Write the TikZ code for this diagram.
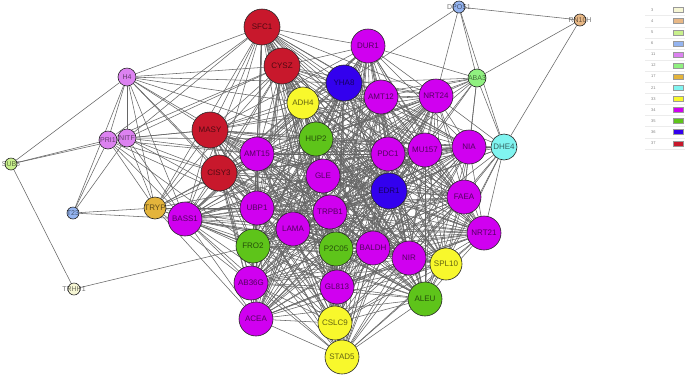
\documentclass[tikz,border=0pt]{standalone}
\usepackage{fontspec}
\setmainfont{Liberation Sans}
\usetikzlibrary{backgrounds}
\definecolor{cIII}{HTML}{F6F6D4}
\definecolor{cIV}{HTML}{E8B886}
\definecolor{cV}{HTML}{C8F08C}
\definecolor{cVI}{HTML}{94B4F0}
\definecolor{cXI}{HTML}{DC82F0}
\definecolor{cXII}{HTML}{90F080}
\definecolor{cXVII}{HTML}{E4B43C}
\definecolor{cXXI}{HTML}{80F4F0}
\definecolor{cXXXIII}{HTML}{F8F82C}
\definecolor{cXXXIV}{HTML}{D000F0}
\definecolor{cXXXV}{HTML}{5EC41A}
\definecolor{cXXXVI}{HTML}{3300EE}
\definecolor{cXXXVII}{HTML}{C8182C}
\definecolor{edgegray}{HTML}{666666}
\tikzset{
  nd/.style={circle, draw=black!85, line width=0.6pt, inner sep=0pt,
    font=\fontsize{8}{8}\selectfont, text=black, text opacity=0.6},
  rbig/.style={nd, minimum size=36pt},
  big/.style={nd, minimum size=34pt},
  mid/.style={nd, minimum size=32pt},
  sml/.style={nd, minimum size=18pt},
  tiny/.style={nd, minimum size=12pt},
  lt/.style={font=\fontsize{7}{7}\selectfont, text=black, text opacity=0.55, inner sep=0pt},
  edge/.style={draw=edgegray, line width=0.55pt},
  legtxt/.style={font=\fontsize{4}{4}\selectfont, text=gray, anchor=west, inner sep=0pt},
  legbox/.style={draw=gray!80, line width=0.3pt}
}
\begin{document}
\begin{tikzpicture}[x=1pt,y=-1pt]
\useasboundingbox (0,0) rectangle (685,376);
% red (37)
\node[rbig, fill=cXXXVII] (SFC1) at (262,27) {SFC1};
\node[rbig, fill=cXXXVII] (CYSZ) at (282,66) {CYSZ};
\node[rbig, fill=cXXXVII] (MASY) at (210,130) {MASY};
\node[rbig, fill=cXXXVII] (CISY3) at (219,173) {CISY3};
% blue (36)
\node[rbig, fill=cXXXVI] (YHA8) at (344,83) {YHA8};
\node[rbig, fill=cXXXVI] (EDR1) at (389,191) {EDR1};
% magenta (34)
\node[big, fill=cXXXIV] (DUR1) at (368,46) {DUR1};
\node[big, fill=cXXXIV] (AMT12) at (381,97) {AMT12};
\node[big, fill=cXXXIV] (NRT24) at (436,96) {NRT24};
\node[big, fill=cXXXIV] (AMT15) at (257,154) {AMT15};
\node[big, fill=cXXXIV] (PDC1) at (388,154) {PDC1};
\node[big, fill=cXXXIV] (MU157) at (425,150) {MU157};
\node[big, fill=cXXXIV] (NIA) at (469,147) {NIA};
\node[big, fill=cXXXIV] (GLE) at (323,176) {GLE};
\node[big, fill=cXXXIV] (FAEA) at (464,197) {FAEA};
\node[big, fill=cXXXIV] (NRT21) at (484,233) {NRT21};
\node[big, fill=cXXXIV] (GL813) at (337,287) {GL813};
\node[big, fill=cXXXIV] (ACEA) at (256,319) {ACEA};
\node[big, fill=cXXXIV] (AB36G) at (251,283) {AB36G};
\node[big, fill=cXXXIV] (UBP1) at (257,208) {UBP1};
\node[big, fill=cXXXIV] (LAMA) at (293,229) {LAMA};
\node[big, fill=cXXXIV] (TRPB1) at (330,212) {TRPB1};
\node[big, fill=cXXXIV] (BALDH) at (373,248) {BALDH};
\node[big, fill=cXXXIV] (NIR) at (409,258) {NIR};
\node[big, fill=cXXXIV] (BASS1) at (185,219) {BASS1};
% green (35)
\node[big, fill=cXXXV] (HUP2) at (316,139) {HUP2};
\node[big, fill=cXXXV] (FRO2) at (253,246) {FRO2};
\node[big, fill=cXXXV] (P2C05) at (336,249) {P2C05};
\node[big, fill=cXXXV] (ALEU) at (425,299) {ALEU};
% yellow (33)
\node[mid, fill=cXXXIII] (ADH4) at (303,103) {ADH4};
\node[mid, fill=cXXXIII] (SPL10) at (446,264) {SPL10};
\node[big, fill=cXXXIII] (CSLC9) at (335,323) {CSLC9};
\node[big, fill=cXXXIII] (STAD5) at (342,357) {STAD5};
% small ones
\node[nd, minimum size=26pt, fill=cXXI] (DHE4) at (504,147) {DHE4};
\node[nd, minimum size=22pt, fill=cXVII] (TRYP) at (155,208) {TRYP};
\node[sml, fill=cXII, label={[lt]center:ABA3}] (ABA3) at (477,78) {};
\node[sml, fill=cXI, label={[lt]center:PRI1}] (PRI1) at (108,140) {};
\node[sml, fill=cXI, label={[lt]center:NITF}] (NITF) at (127,138) {};
\node[sml, fill=cXI, label={[lt]center:H4}] (H4) at (127,77) {};
\node[tiny, fill=cVI, label={[lt]center:DPOS1}] (DPOS1) at (459,7) {};
\node[tiny, fill=cIV, label={[lt]center:RN10H}] (RN10H) at (580,20) {};
\node[tiny, fill=cVI, label={[lt]center:T23}] (T23) at (73,213) {};
\node[tiny, fill=cV, label={[lt]center:SUB5}] (SUB5) at (11,164) {};
\node[tiny, fill=cIII, label={[lt]center:TRHH1}] (TRHH1) at (74,289) {};

\begin{scope}[on background layer]
\fill[white] (0,0) rectangle (685,376);
% dense core
\foreach \a [count=\i] in {SFC1,CYSZ,MASY,CISY3,YHA8,EDR1,DUR1,AMT12,NRT24,AMT15,PDC1,MU157,NIA,GLE,FAEA,NRT21,GL813,ACEA,AB36G,UBP1,LAMA,TRPB1,BALDH,NIR,BASS1,HUP2,FRO2,P2C05,ALEU,ADH4,SPL10,CSLC9,STAD5}{
  \foreach \b [count=\j] in {SFC1,CYSZ,MASY,CISY3,YHA8,EDR1,DUR1,AMT12,NRT24,AMT15,PDC1,MU157,NIA,GLE,FAEA,NRT21,GL813,ACEA,AB36G,UBP1,LAMA,TRPB1,BALDH,NIR,BASS1,HUP2,FRO2,P2C05,ALEU,ADH4,SPL10,CSLC9,STAD5}{
    \ifnum\j>\i \draw[edge] (\a) -- (\b); \fi
  }
}
% periphery
\foreach \b in {SFC1,CYSZ,MASY,CISY3,AMT15,ADH4,HUP2,TRYP,BASS1,PRI1,NITF,T23,SUB5,UBP1,YHA8}
  \draw[edge] (H4) -- (\b);
\foreach \b in {NITF,SUB5,T23,TRYP,MASY,CISY3,BASS1,AMT15,SFC1,CYSZ,UBP1,FRO2}
  \draw[edge] (PRI1) -- (\b);
\foreach \b in {SUB5,T23,TRYP,MASY,CISY3,BASS1,AMT15,SFC1,CYSZ,HUP2,LAMA}
  \draw[edge] (NITF) -- (\b);
\foreach \b in {TRYP,BASS1}
  \draw[edge] (T23) -- (\b);
\draw[edge] (SUB5) -- (TRHH1);
\draw[edge] (TRHH1) -- (FRO2);
\foreach \b in {BASS1,MASY,CISY3,AMT15,UBP1,FRO2,LAMA,GLE,AB36G,ACEA,TRPB1,HUP2,SFC1,CYSZ}
  \draw[edge] (TRYP) -- (\b);
\foreach \b in {RN10H,ABA3,DHE4,NRT24,YHA8}
  \draw[edge] (DPOS1) -- (\b);
\foreach \b in {ABA3,DHE4}
  \draw[edge] (RN10H) -- (\b);
\foreach \b in {DHE4,NRT24,NIA,MU157,PDC1,AMT12,YHA8,DUR1,EDR1,FAEA,HUP2,ADH4,GLE}
  \draw[edge] (ABA3) -- (\b);
\foreach \b in {NIA,FAEA,NRT21,MU157,PDC1,NRT24,EDR1,GLE,SPL10,NIR,AMT12,BALDH,TRPB1,ALEU,HUP2}
  \draw[edge] (DHE4) -- (\b);
\end{scope}

% legend
\foreach \lab/\col [count=\k from 0] in {3/cIII,4/cIV,5/cV,6/cVI,11/cXI,12/cXII,17/cXVII,21/cXXI,33/cXXXIII,34/cXXXIV,35/cXXXV,36/cXXXVI,37/cXXXVII}{
  \node[legtxt] (leg\k) at (651,{10+11.1*\k}) {\lab};
  \draw[legbox, fill=\col] (673,{7.5+11.1*\k}) rectangle (683,{12.5+11.1*\k});
  \draw[gray!15, line width=0.3pt] (645,{15.6+11.1*\k}) -- (685,{15.6+11.1*\k});
}
\end{tikzpicture}
\end{document}
